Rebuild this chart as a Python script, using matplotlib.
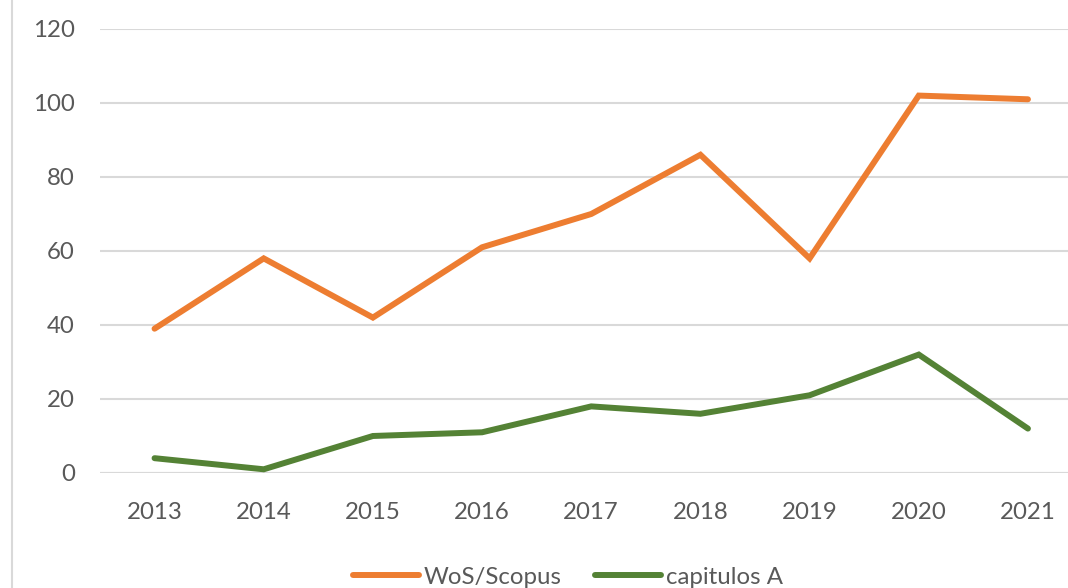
import matplotlib
matplotlib.use("Agg")
import matplotlib.pyplot as plt
from matplotlib.lines import Line2D

years = ["2013", "2014", "2015", "2016", "2017", "2018", "2019", "2020", "2021"]
wos_scopus = [39, 58, 42, 61, 70, 86, 58, 102, 101]
capitulos = [4, 1, 10, 11, 18, 16, 21, 32, 12]
series_names = ["WoS/Scopus", "capitulos A"]
y_ticks = [0, 20, 40, 60, 80, 100, 120]

plt.rcParams['font.family'] = ['Lato', 'DejaVu Sans']
text_color = "#595959"
grid_color = "#d9d9d9"

fig = plt.figure(figsize=(10.68, 5.88), dpi=100)
# axes reach past the right edge, the original screenshot is cropped there
ax = fig.add_axes([0.0936, 0.1956, 0.920, 0.7551])

x = list(range(len(years)))
ax.plot(x, wos_scopus, color="#ed7d31", lw=4.3, solid_capstyle="round",
        solid_joinstyle="miter", label=series_names[0], zorder=3)
ax.plot(x, capitulos, color="#548235", lw=4.3, solid_capstyle="round",
        solid_joinstyle="miter", label=series_names[1], zorder=3)

ax.set_xlim(-0.5, len(years) - 0.5)
ax.set_ylim(0, 120)
ax.set_yticks(y_ticks)
ax.set_xticks(x)
ax.set_xticklabels(years)
ax.yaxis.grid(True, color=grid_color, lw=1.5)
ax.set_axisbelow(True)
for s in ax.spines.values():
    s.set_visible(False)
ax.axhline(0, color=grid_color, lw=1.5, zorder=1)
ax.tick_params(axis="both", length=0, labelsize=17.3, colors=text_color)
ax.tick_params(axis="y", pad=18)
ax.tick_params(axis="x", pad=21)

# left border of the chart frame
fig.add_artist(Line2D([12 / 1068, 12 / 1068], [0, 1], color=grid_color, lw=1.5,
                      transform=fig.transFigure))

fig.legend(loc="center", bbox_to_anchor=(568 / 1068, 1 - 577 / 588), ncol=2,
           frameon=False, fontsize=17.3, labelcolor=text_color,
           handlelength=2.75, handletextpad=0.2, columnspacing=1.4)

fig.savefig("out.png", dpi=100)
